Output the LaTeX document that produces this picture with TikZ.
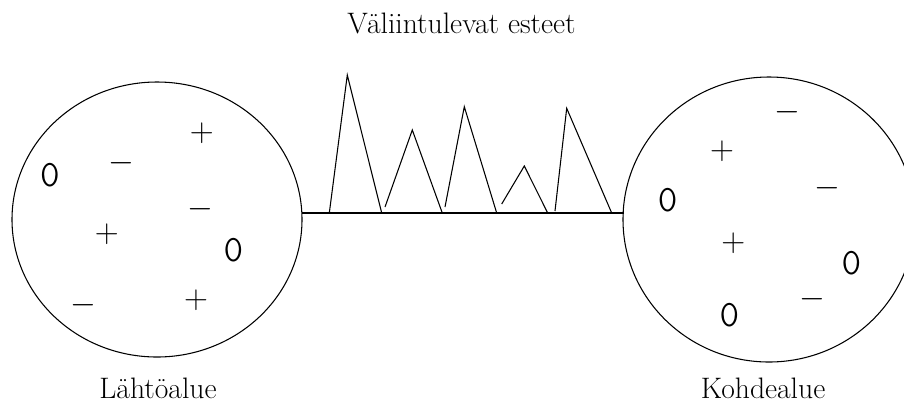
\documentclass[tikz,border=0pt]{standalone}
\usepackage{graphicx}
\usetikzlibrary{shapes.geometric}

\begin{document}
\begin{tikzpicture}[x=0.75pt, y=-0.75pt, line width=0.8pt,
    alue/.style={draw, ellipse, inner sep=0pt, outer sep=0pt},
    otsikko/.style={font=\fontsize{22.2}{26}\selectfont, anchor=base, inner sep=0pt},
    plussa/.style={font=\fontsize{25}{28}\selectfont, inner sep=0pt},
    nolla/.style={font=\fontsize{24.5}{28}\selectfont\sffamily, inner sep=0pt}]

    \useasboundingbox (0,0) rectangle (904,405);
    \clip (0,0) rectangle (904,405);

    % Areas
    \node[alue, minimum width=217.5pt, minimum height=206.25pt] (lahto) at (157,219.5) {};
    \node[alue, minimum width=219pt, minimum height=213.75pt] (kohde) at (769,219.5) {};

    % Titles
    \node[otsikko] (este) at (461.5,33) {Väliintulevat esteet};
    \node[otsikko] (lahtoT) at (158,398) {Lähtöalue};
    \node[otsikko] (kohdeT) at (763,398) {Kohdealue};

    % Barrier line
    \coordinate (esteA) at (302,213);
    \coordinate (esteB) at (623.5,213);
    \draw (esteA) -- (esteB);

    % Obstacles
    \draw (329.3,213) -- (347.3,75) -- (381.7,213);
    \draw (385,207) -- (412.3,130) -- (442.3,213);
    \draw (445,207) -- (464.3,106.7) -- (496.7,213);
    \draw (501.7,204) -- (524.3,166) -- (547.7,213);
    \draw (555,211) -- (566.7,108.3) -- (611.7,213);

    % Charges, source area
    \node[nolla] (l1) at (50,175) {\scalebox{0.82}[1]{O}};
    \node[plussa] (l2) at (121.7,163.3) {$-$};
    \node[plussa] (l3) at (201.7,133.3) {$+$};
    \node[plussa] (l4) at (200,209.3) {$-$};
    \node[plussa] (l5) at (106.7,234.3) {$+$};
    \node[nolla] (l6) at (233.3,250) {\scalebox{0.82}[1]{O}};
    \node[plussa] (l7) at (83.7,305) {$-$};
    \node[plussa] (l8) at (196,300) {$+$};

    % Charges, target area
    \node[plussa] (k1) at (787.7,112.3) {$-$};
    \node[plussa] (k2) at (722,151) {$+$};
    \node[plussa] (k3) at (827,188.3) {$-$};
    \node[nolla] (k4) at (667.7,200) {\scalebox{0.82}[1]{O}};
    \node[plussa] (k5) at (733.3,243.3) {$+$};
    \node[nolla] (k6) at (851.3,263.3) {\scalebox{0.82}[1]{O}};
    \node[plussa] (k7) at (812,299.3) {$-$};
    \node[nolla] (k8) at (729.3,315) {\scalebox{0.82}[1]{O}};
  \end{tikzpicture}
\end{document}
